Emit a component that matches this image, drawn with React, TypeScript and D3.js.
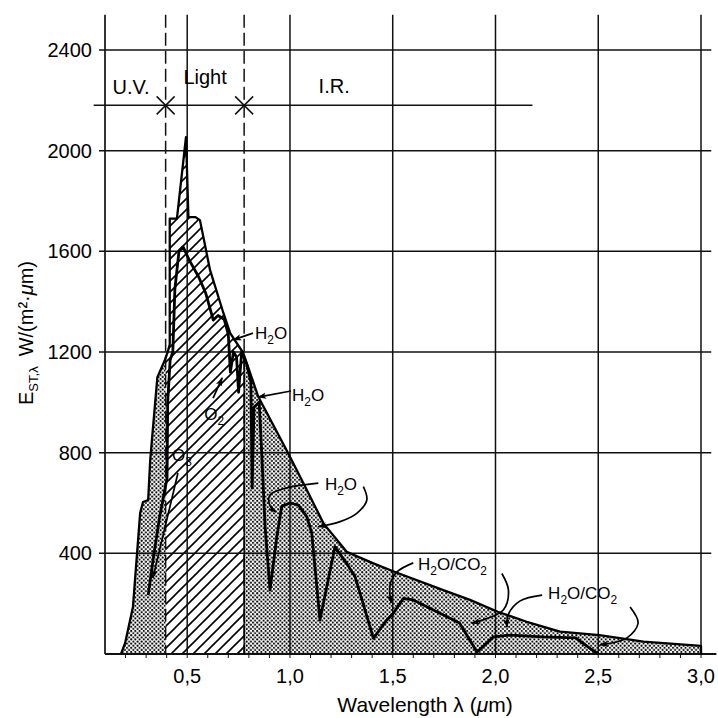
import * as d3 from 'd3'

// extraterrestrial spectrum (outer envelope), wavelength in µm, irradiance in W/(m²·µm)
const spectrumLambda = [0.178, 0.198, 0.236, 0.271, 0.285, 0.31, 0.32, 0.345, 0.355, 0.39, 0.405, 0.415, 0.415, 0.45, 0.494, 0.506, 0.54, 0.562, 0.611, 0.676, 0.709, 0.773, 0.846, 0.992, 1.082, 1.163, 1.276, 1.406, 1.508, 1.746, 1.876, 2.011, 2.152, 2.314, 2.506, 2.72, 3.0, 3.0]
const spectrumE = [0, 44, 187, 560, 604, 612, 770, 1008, 1100, 1165, 1200, 1230, 1730, 1730, 2054, 1736, 1736, 1724, 1526, 1355, 1275, 1196, 1022, 797, 652, 519, 406, 360, 327, 254, 215, 168, 128, 89, 75, 49, 32, 0]

// spectrum at ground level, with the absorption bands
const groundLambda = [0.31, 0.335, 0.365, 0.402, 0.405, 0.417, 0.43, 0.44, 0.46, 0.48, 0.51, 0.556, 0.59, 0.627, 0.65, 0.68, 0.7, 0.71, 0.725, 0.74, 0.75, 0.765, 0.775, 0.79, 0.81, 0.816, 0.825, 0.85, 0.862, 0.879, 0.903, 0.936, 0.96, 1.0, 1.041, 1.082, 1.106, 1.146, 1.219, 1.252, 1.276, 1.317, 1.341, 1.406, 1.471, 1.503, 1.552, 1.6, 1.666, 1.73, 1.825, 1.91, 1.99, 2.07, 2.23, 2.39, 2.47, 2.5]
const groundE = [234, 380, 540, 699, 1000, 1168, 1200, 1450, 1600, 1618, 1565, 1498, 1434, 1327, 1345, 1330, 1270, 1120, 1200, 1180, 1040, 1200, 1180, 1150, 1080, 660, 980, 1000, 810, 505, 254, 466, 587, 600, 592, 545, 480, 135, 426, 387, 360, 307, 241, 62, 135, 162, 221, 215, 188, 162, 123, 8, 68, 75, 68, 64, 16, 0]

const yTicks = [400, 800, 1200, 1600, 2000, 2400]
const xTicks = [0.5, 1.0, 1.5, 2.0, 2.5, 3.0]
const xTickLabels = ['0,5', '1,0', '1,5', '2,0', '2,5', '3,0']

const uvLimit = 0.395
const irLimit = 0.777
const bandE = 2180
const bandLabels = [
  { text: 'U.V.', lambda: 0.227, e: 2225 },
  { text: 'Light', lambda: 0.587, e: 2265 },
  { text: 'I.R.', lambda: 1.215, e: 2229 },
]

type Pt = [number, number]

// absorption labels and their arrows, anchored in data units
const absorbers: { label: string; at: Pt; arrows: Pt[][] }[] = [
  { label: 'O3', at: [0.426, 767], arrows: [[[0.455, 719], [0.333, 302]]] },
  { label: 'O2', at: [0.583, 930], arrows: [[[0.626, 1017], [0.67, 1097]]] },
  { label: 'H2O', at: [0.83, 1251], arrows: [[[0.82, 1275], [0.724, 1248]]] },
  { label: 'H2O', at: [1.01, 1005], arrows: [[[1.005, 1045], [0.845, 1021]]] },
  {
    label: 'H2O',
    at: [1.17, 652],
    arrows: [
      [[1.138, 679], [0.985, 660], [0.903, 632], [0.903, 588], [0.932, 564]],
      [[1.357, 665], [1.374, 612], [1.325, 559], [1.244, 526], [1.138, 506]],
    ],
  },
  {
    label: 'H2O/CO2',
    at: [1.623, 334],
    arrows: [
      [[1.6, 362], [1.521, 326], [1.487, 274], [1.492, 203]],
      [[2.031, 320], [2.063, 254], [2.038, 175], [1.885, 122]],
    ],
  },
  {
    label: 'H2O/CO2',
    at: [2.256, 218],
    arrows: [
      [[2.227, 234], [2.12, 211], [2.061, 155], [2.056, 107]],
      [[2.655, 187], [2.694, 123], [2.64, 64], [2.509, 36]],
    ],
  },
]

const font = '"Liberation Sans", Arial, Helvetica, sans-serif'

function chem(text: string, size: number) {
  // digits become subscripts
  const parts = text.match(/\d+|\D+/g) || []
  let shift = 0
  return parts.map((p, i) => {
    const isSub = /\d/.test(p)
    const dy = (isSub ? 5 : 0) - shift
    shift = isSub ? 5 : 0
    return (
      <tspan key={i} dy={dy} fontSize={isSub ? size * 0.7 : size}>
        {p}
      </tspan>
    )
  })
}

export default function App() {
  const width = 718
  const height = 718
  const x = d3.scaleLinear([0.1, 3.0], [105, 701])
  const y = d3.scaleLinear([0, 2400], [654, 50])
  const topY = y(2540)

  const outer: Pt[] = spectrumLambda.map((l, i) => [l, spectrumE[i]])
  const ground: Pt[] = groundLambda.map((l, i) => [l, groundE[i]])

  const area = d3.area<Pt>().x((d) => x(d[0])).y0(y(0)).y1((d) => y(d[1]))
  const line = d3.line<Pt>().x((d) => x(d[0])).y((d) => y(d[1]))
  const curved = d3
    .line<Pt>()
    .x((d) => x(d[0]))
    .y((d) => y(d[1]))
    .curve(d3.curveCatmullRom.alpha(0.5))

  const outerAt = (l: number) => {
    const i = d3.bisector((d: Pt) => d[0]).left(outer, l)
    const a = outer[i - 1]
    const b = outer[i]
    return a[1] + ((b[1] - a[1]) * (l - a[0])) / (b[0] - a[0])
  }

  const minorTicks = d3.range(2, 31).map((k) => k / 10)

  return (
    <svg
      width={width}
      height={height}
      viewBox={`0 0 ${width} ${height}`}
      style={{ position: 'absolute', left: 0, top: 0, background: '#fff' }}
      fontFamily={font}
    >
      <defs>
        <pattern id="dots" width="4.2" height="4.2" patternUnits="userSpaceOnUse">
          <circle cx="1" cy="1" r="1.05" fill="#000" />
          <circle cx="3.1" cy="3.1" r="1.05" fill="#000" />
        </pattern>
        <pattern id="hatch" width="11" height="11" patternUnits="userSpaceOnUse">
          <path d="M-2,13 L13,-2 M-2,2 L2,-2 M9,13 L13,9" stroke="#000" strokeWidth="1.6" />
        </pattern>
        <clipPath id="visible">
          <rect x={x(uvLimit)} y={0} width={x(irLimit) - x(uvLimit)} height={y(0)} />
        </clipPath>
        <marker
          id="head"
          viewBox="0 0 10 10"
          refX="9"
          refY="5"
          markerWidth="9"
          markerHeight="9"
          markerUnits="userSpaceOnUse"
          orient="auto"
        >
          <path d="M0,1.5 L10,5 L0,8.5 L2.5,5 Z" fill="#000" />
        </marker>
      </defs>

      {/* spectrum fills */}
      <path d={area(outer) || undefined} fill="url(#dots)" />
      <g clipPath="url(#visible)">
        <path d={area(outer) || undefined} fill="#fff" />
        <path d={area(outer) || undefined} fill="url(#hatch)" />
      </g>

      {/* grid */}
      <g stroke="#111" strokeWidth="1.5">
        {yTicks.map((t) => (
          <line key={t} x1={x(0.1) - 6} x2={x(3.05)} y1={y(t)} y2={y(t)} />
        ))}
        {xTicks.map((t) => (
          <line key={t} x1={x(t)} x2={x(t)} y1={topY} y2={y(0)} />
        ))}
        <line x1={x(0.1)} x2={x(0.1)} y1={topY} y2={y(0)} strokeWidth="1.7" />
        <line x1={x(0.1)} x2={x(3.075)} y1={y(0)} y2={y(0)} strokeWidth="2" />
        {minorTicks.map((t) => (
          <line key={t} x1={x(t)} x2={x(t)} y1={y(0)} y2={y(0) + 4} strokeWidth="1" />
        ))}
      </g>
      <g stroke="#111" strokeWidth="1.5" strokeDasharray="13,5">
        <line x1={x(uvLimit)} x2={x(uvLimit)} y1={topY} y2={y(0)} />
        <line x1={x(irLimit)} x2={x(irLimit)} y1={topY} y2={y(0)} />
      </g>
      <line
        x1={x(irLimit)}
        x2={x(irLimit)}
        y1={y(0)}
        y2={y(outerAt(irLimit))}
        stroke="#000"
        strokeWidth="1.4"
      />

      {/* spectrum curves */}
      <path d={line(outer) || undefined} fill="none" stroke="#000" strokeWidth="2.3" strokeLinejoin="round" />
      <path d={line(ground) || undefined} fill="none" stroke="#000" strokeWidth="2.8" strokeLinejoin="round" />

      {/* U.V. / Light / I.R. band */}
      <g stroke="#111" strokeWidth="1.5">
        <line x1={x(0.045)} x2={x(2.18)} y1={y(bandE)} y2={y(bandE)} />
        {[uvLimit, irLimit].map((l) => (
          <g key={l} transform={`translate(${x(l)},${y(bandE)})`}>
            <line x1={-9} x2={9} y1={-9} y2={9} />
            <line x1={-9} x2={9} y1={9} y2={-9} />
          </g>
        ))}
      </g>
      <g fontSize="20" textAnchor="middle" fill="#000">
        {bandLabels.map((b) => (
          <text key={b.text} x={x(b.lambda)} y={y(b.e)}>
            {b.text}
          </text>
        ))}
      </g>

      {/* absorption annotations */}
      {absorbers.map((a, i) => (
        <g key={i}>
          {a.arrows.map((pts, j) => (
            <path
              key={j}
              d={(pts.length > 2 ? curved(pts) : line(pts)) || undefined}
              fill="none"
              stroke="#000"
              strokeWidth="1.7"
              markerEnd="url(#head)"
            />
          ))}
          <text x={x(a.at[0])} y={y(a.at[1])} fontSize="17" fill="#000">
            {chem(a.label, 17)}
          </text>
        </g>
      ))}

      {/* axes labels */}
      <g fontSize="20" fill="#000">
        {yTicks.map((t) => (
          <text key={t} x={x(0.1) - 13} y={y(t)} dy="0.35em" textAnchor="end">
            {t}
          </text>
        ))}
        {xTicks.map((t, i) => (
          <text key={t} x={x(t)} y={y(0) + 29} textAnchor="middle">
            {xTickLabels[i]}
          </text>
        ))}
      </g>
      <text x={425} y={712} fontSize="21" textAnchor="middle" fill="#000">
        Wavelength λ (<tspan fontStyle="italic">μ</tspan>m)
      </text>
      <text transform="translate(33,333) rotate(-90)" fontSize="20" textAnchor="middle" fill="#000">
        E
        <tspan dy="5" fontSize="13">ST,λ</tspan>
        <tspan dy="-5">{'\u2002'}W/(m²·</tspan>
        <tspan fontStyle="italic">μ</tspan>
        <tspan>m)</tspan>
      </text>
    </svg>
  )
}
